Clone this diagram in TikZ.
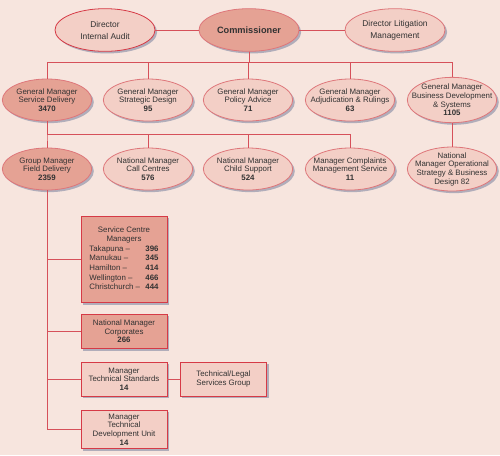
\documentclass[tikz,border=0pt]{standalone}
\usepackage{fontspec}
\setmainfont{Liberation Sans}
\usetikzlibrary{shapes.geometric,shadows}
\definecolor{pagebg}{RGB}{247,229,222}
\definecolor{unitfill}{RGB}{243,207,198}
\definecolor{unitdark}{RGB}{229,162,148}
\definecolor{unitline}{RGB}{222,118,122}
\definecolor{postline}{RGB}{214,58,70}
\definecolor{linkred}{RGB}{214,80,90}
\definecolor{shadowc}{RGB}{160,160,178}
\definecolor{inktext}{RGB}{50,50,50}
\begin{document}
\begin{tikzpicture}[x=.75pt,y=-.75pt,
  unit/.style={ellipse,draw=unitline,line width=.6pt,fill=unitfill,
    inner xsep=-12pt,inner ysep=-8pt,align=center,text=inktext,
    font=\fontsize{5.9}{6.5}\selectfont,
    drop shadow={shadow xshift=1.6pt,shadow yshift=-1.6pt,fill=shadowc,opacity=.8}},
  head/.style={unit,minimum width=75pt,minimum height=32pt,
    font=\fontsize{6.3}{9}\selectfont},
  gm/.style={unit,minimum width=67pt,minimum height=31.5pt},
  dark/.style={fill=unitdark},
  post/.style={rectangle,draw=postline,line width=.6pt,fill=unitfill,
    minimum width=64.5pt,inner sep=0pt,align=center,text=inktext,
    font=\fontsize{5.9}{6.5}\selectfont,
    drop shadow={shadow xshift=1.6pt,shadow yshift=-1.6pt,fill=shadowc,opacity=.8}},
  link/.style={draw=linkred,line width=.6pt}]
\path[use as bounding box] (0,0) rectangle (500,455);
\path[fill=pagebg] (0,0) rectangle (500,455);
% top row
\node[head,draw=postline] (audit) at (105,30) {Director\\Internal Audit};
\node[head,dark,font=\fontsize{6.9}{9}\selectfont] (comm) at (249,30) {\textbf{Commissioner}};
\node[head] (litig) at (395,30) {Director Litigation\\Management};
% general managers
\node[gm,dark] (sd) at (47,100) {General Manager\\Service Delivery\\\textbf{3470}};
\node[gm] (sdes) at (148,100) {General Manager\\Strategic Design\\\textbf{95}};
\node[gm] (pol) at (248,100) {General Manager\\Policy Advice\\\textbf{71}};
\node[gm] (adj) at (350,100) {General Manager\\Adjudication \& Rulings\\\textbf{63}};
\node[gm,minimum height=34pt] (bdev) at (452,100) {General Manager\\Business Development\\\& Systems\\\textbf{1105}};
% third row
\node[gm,dark] (fd) at (47,169) {Group Manager\\Field Delivery\\\textbf{2359}};
\node[gm] (cc) at (148,169) {National Manager\\Call Centres\\\textbf{576}};
\node[gm] (cs) at (248,169) {National Manager\\Child Support\\\textbf{524}};
\node[gm] (cms) at (350,169) {Manager Complaints\\Management Service\\\textbf{11}};
\node[gm,minimum height=33pt] (ops) at (452,169) {National\\Manager Operational\\Strategy \& Business\\Design 82};
% field delivery posts
\node[post,dark,minimum height=65pt,font=\fontsize{5.9}{7.2}\selectfont] (scm) at (124,259.5) {Service Centre\\Managers\\
  \begin{tabular}{@{}l@{\hspace{4pt}}r@{}}
  Takapuna --&\textbf{396}\\
  Manukau --&\textbf{345}\\
  Hamilton --&\textbf{414}\\
  Wellington --&\textbf{466}\\
  Christchurch --&\textbf{444}
  \end{tabular}};
\node[post,dark,minimum height=26pt] (corp) at (124,331.5) {National Manager\\Corporates\\\textbf{266}};
\node[post,minimum height=25.5pt] (tstd) at (124,379) {Manager\\Technical Standards\\\textbf{14}};
\node[post,minimum width=65pt,minimum height=25.5pt] (legal) at (223.5,379) {Technical/Legal\\Services Group};
\node[post,minimum height=29pt] (tdu) at (124,429.5) {Manager\\Technical\\Development Unit\\\textbf{14}};
% connectors
\draw[link] (audit) -- (comm);
\draw[link] (comm) -- (litig);
\foreach \n in {sd,sdes,pol,adj,bdev}
  \draw[link] (comm.south) -- ++(0,10.5) -| (\n.north);
\foreach \n in {fd,cc,cs,cms}
  \draw[link] (sd.south) -- ++(0,13) -| (\n.north);
\draw[link] (bdev.south) -- (ops.north);
\foreach \n in {scm,corp,tstd,tdu}
  \draw[link] (fd.south) |- (\n.west);
\draw[link] (tstd) -- (legal);
\end{tikzpicture}
\end{document}
